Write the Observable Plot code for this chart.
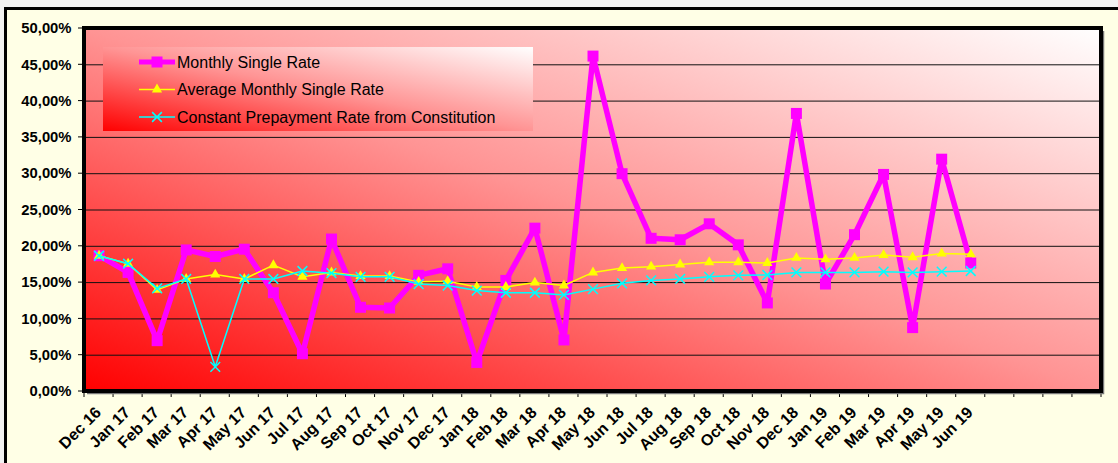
<!DOCTYPE html>
<html><head><meta charset="utf-8">
<script src="https://cdn.jsdelivr.net/npm/d3@7"></script>
<script src="https://cdn.jsdelivr.net/npm/@observablehq/plot@0.6"></script>
<style>
html,body{margin:0;padding:0;background:#f2f2f2;}
#chart svg{display:block;}
</style></head><body><div id="chart"></div>
<script>
const months = ["Dec 16","Jan 17","Feb 17","Mar 17","Apr 17","May 17","Jun 17","Jul 17","Aug 17","Sep 17","Oct 17","Nov 17","Dec 17","Jan 18","Feb 18","Mar 18","Apr 18","May 18","Jun 18","Jul 18","Aug 18","Sep 18","Oct 18","Nov 18","Dec 18","Jan 19","Feb 19","Mar 19","Apr 19","May 19","Jun 19"];
const emptySlots = ["slot 1","slot 2","slot 3","slot 4"];
const monthlySingleRate = [18.7,16.4,7.0,19.5,18.6,19.6,13.6,5.2,21.0,11.6,11.5,16.0,16.9,4.0,15.3,22.5,7.1,46.2,30.0,21.1,20.9,23.1,20.2,12.2,38.3,14.8,21.6,29.9,8.8,32.0,17.7];
const averageMonthlySingleRate = [18.7,17.6,14.0,15.5,16.1,15.5,17.4,15.8,16.4,15.9,15.9,15.1,15.2,14.4,14.4,15.0,14.6,16.4,17.0,17.2,17.5,17.8,17.8,17.7,18.4,18.2,18.4,18.8,18.5,19.0,18.9];
const constantPrepaymentRate = [18.7,17.6,14.2,15.5,3.4,15.5,15.5,16.6,16.3,15.8,15.8,14.8,14.6,13.9,13.6,13.6,13.3,14.1,14.9,15.3,15.5,15.8,16.0,16.05,16.4,16.4,16.4,16.5,16.4,16.5,16.6];
const seriesNames = ["Monthly Single Rate","Average Monthly Single Rate","Constant Prepayment Rate from Constitution"];
const yTicks = [0,5,10,15,20,25,30,35,40,45,50];
const yTickLabels = ["0,00%","5,00%","10,00%","15,00%","20,00%","25,00%","30,00%","35,00%","40,00%","45,00%","50,00%"];

const rowsOf = (vals) => months.map((m, i) => ({month: m, value: vals[i]}));
const msr = rowsOf(monthlySingleRate);
const amsr = rowsOf(averageMonthlySingleRate);
const cpr = rowsOf(constantPrepaymentRate);
const yTickRows = yTicks.map((v, i) => ({value: v, label: yTickLabels[i]}));

const MAGENTA = "#FF00FF", YELLOW = "#FFFF00", CYAN = "#00FFFF";
const FONT = "'Liberation Sans', Arial, sans-serif";

function gradientDef(g, id) {
  const defs = g.append("defs");
  const lg = defs.append("linearGradient").attr("id", id)
    .attr("x1", 0).attr("y1", 1).attr("x2", 1).attr("y2", 0);
  lg.append("stop").attr("offset", "0%").attr("stop-color", "#FF0000");
  lg.append("stop").attr("offset", "50%").attr("stop-color", "#FF9494");
  lg.append("stop").attr("offset", "100%").attr("stop-color", "#FFFFFF");
}

function decor(index, scales, values, dims) {
  const {width, height, marginTop, marginRight, marginBottom, marginLeft} = dims;
  const g = d3.create("svg:g");
  gradientDef(g, "plotAreaGrad");
  g.append("rect").attr("x", 0).attr("y", 0).attr("width", width).attr("height", 7).attr("fill", "#f2f2f2");
  g.append("rect").attr("x", 0).attr("y", 0).attr("width", 4).attr("height", height).attr("fill", "#f2f2f2");
  g.append("path").attr("d", `M5.5,${height}V8.5H${width}`).attr("fill", "none").attr("stroke", "#000").attr("stroke-width", 3);
  g.append("rect").attr("x", marginLeft).attr("y", marginTop)
    .attr("width", width - marginLeft - marginRight).attr("height", height - marginTop - marginBottom)
    .attr("fill", "url(#plotAreaGrad)");
  return g.node();
}

function frame(index, scales, values, dims) {
  const {width, height, marginTop, marginRight, marginBottom, marginLeft} = dims;
  const g = d3.create("svg:g");
  const x0 = marginLeft, x1 = width - marginRight, y0 = marginTop, y1 = height - marginBottom;
  const dom = scales.x.domain();
  const bw = scales.x.bandwidth ? scales.x.bandwidth() : (x1 - x0) / dom.length;
  const bounds = dom.map(d => scales.x(d)).concat([scales.x(dom[dom.length - 1]) + bw]);
  g.append("g").selectAll("line").data(bounds).join("line")
    .attr("x1", d => d).attr("x2", d => d).attr("y1", y1).attr("y2", y1 + 6)
    .attr("stroke", "#000").attr("stroke-width", 1);
  g.append("g").selectAll("line").data(yTicks).join("line")
    .attr("x1", x0 - 6).attr("x2", x0).attr("y1", d => scales.y(d)).attr("y2", d => scales.y(d))
    .attr("stroke", "#000").attr("stroke-width", 1);
  g.append("path").attr("d", `M${x0 + 3},${y1 + 2.5}H${x1 + 2.5}V${y0 + 3}`).attr("fill", "none").attr("stroke", "#777").attr("stroke-width", 1.5);
  g.append("rect").attr("x", x0).attr("y", y0).attr("width", x1 - x0).attr("height", y1 - y0)
    .attr("fill", "none").attr("stroke", "#000").attr("stroke-width", 4);
  return g.node();
}

function legend(index, scales, values, dims) {
  const {marginTop, marginLeft} = dims;
  const g = d3.create("svg:g").attr("text-anchor", "start");
  gradientDef(g, "legendGrad");
  const lx = marginLeft + 19, ly = marginTop + 19, lw = 430, lh = 84;
  g.append("rect").attr("x", lx).attr("y", ly).attr("width", lw).attr("height", lh).attr("fill", "url(#legendGrad)");
  const rows = [
    {name: seriesNames[0], color: MAGENTA, width: 5, sym: "square"},
    {name: seriesNames[1], color: YELLOW, width: 1.5, sym: "triangle"},
    {name: seriesNames[2], color: CYAN, width: 1.5, sym: "times"}
  ];
  rows.forEach((r, i) => {
    const cy = ly + 15 + i * 27.5;
    const sx0 = lx + 36, sx1 = lx + 72, cx = (sx0 + sx1) / 2;
    g.append("line").attr("x1", sx0).attr("x2", sx1).attr("y1", cy).attr("y2", cy)
      .attr("stroke", r.color).attr("stroke-width", r.width);
    if (r.sym === "square") {
      g.append("rect").attr("x", cx - 5.5).attr("y", cy - 5.5).attr("width", 11).attr("height", 11).attr("fill", r.color);
    } else if (r.sym === "triangle") {
      g.append("path").attr("d", d3.symbol(d3.symbolTriangle, Math.PI * 3.8 * 3.8)()).attr("transform", `translate(${cx},${cy})`).attr("fill", r.color);
    } else {
      g.append("path").attr("d", d3.symbol(d3.symbolX, Math.PI * 4.5 * 4.5)()).attr("transform", `translate(${cx},${cy})`)
        .attr("fill", "none").attr("stroke", r.color).attr("stroke-width", 1.5);
    }
    g.append("text").attr("x", sx1 + 2).attr("y", cy).attr("dy", "0.35em").attr("text-anchor", "start")
      .attr("style", `font-family:${FONT};font-size:16px;font-weight:normal;fill:#000`).text(r.name);
  });
  return g.node();
}

const chart = Plot.plot({
  width: 1118,
  height: 463,
  marginLeft: 84,
  marginRight: 17,
  marginTop: 28,
  marginBottom: 72,
  style: {background: "#FFFFE6", fontFamily: FONT, fontSize: "14px", color: "#000"},
  x: {type: "band", domain: months.concat(emptySlots), paddingInner: 0, paddingOuter: 0, round: false, axis: null},
  y: {domain: [0, 50], axis: null},
  marks: [
    decor,
    Plot.ruleY(yTicks.filter(v => v > 0 && v < 50), {stroke: "#111", strokeWidth: 1}),
    legend,
    frame,
    Plot.text(yTickRows, {y: "value", text: "label", frameAnchor: "left", textAnchor: "end", dx: -13,
      fontSize: 14.8, fontWeight: "bold", fill: "#000"}),
    Plot.text(months, {x: d => d, text: d => d, frameAnchor: "bottom", rotate: -45, textAnchor: "end", lineAnchor: "bottom",
      dx: 3, dy: 22, fontSize: 16, fontWeight: "bold", fill: "#000"}),
    Plot.line(msr, {x: "month", y: "value", stroke: MAGENTA, strokeWidth: 5.5, strokeLinejoin: "miter"}),
    Plot.dot(msr, {x: "month", y: "value", symbol: "square", r: 6.2, fill: MAGENTA, stroke: "none"}),
    Plot.line(amsr, {x: "month", y: "value", stroke: YELLOW, strokeWidth: 1.5}),
    Plot.dot(amsr, {x: "month", y: "value", symbol: "triangle", r: 3.8, fill: YELLOW, stroke: "none"}),
    Plot.line(cpr, {x: "month", y: "value", stroke: CYAN, strokeWidth: 1.5}),
    Plot.dot(cpr, {x: "month", y: "value", symbol: "times", r: 4.5, stroke: CYAN, strokeWidth: 1.5})
  ]
});
document.getElementById("chart").appendChild(chart);
</script>
</body></html>
